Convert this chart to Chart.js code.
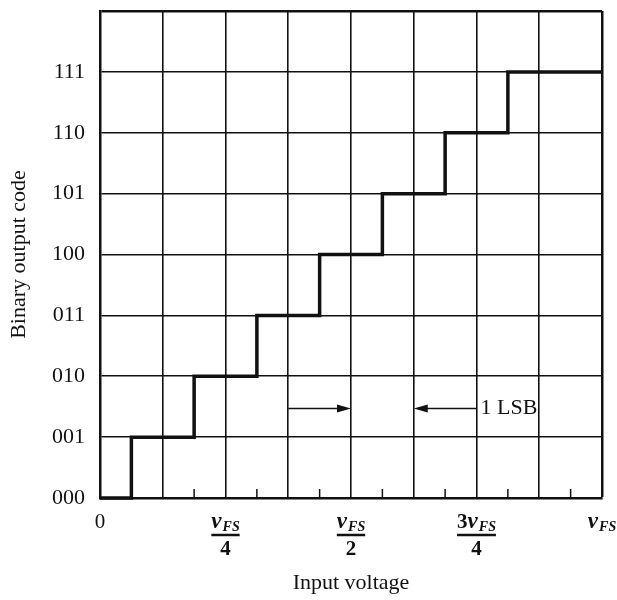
<!DOCTYPE html>
<html>
<head>
<meta charset="utf-8">
<script src="https://cdn.jsdelivr.net/npm/chart.js@4/dist/chart.umd.min.js"></script>
<style>
	html, body { margin: 0; padding: 0; background: #fff; }
	#wrap { width: 617px; height: 600px; }
</style>
</head>
<body>
<div id="wrap"><canvas id="chart"></canvas></div>
<script>
// output codes, one per level
const codes = ["000", "001", "010", "011", "100", "101", "110", "111"];
const levels = [0, 1, 2, 3, 4, 5, 6, 7];
// input (fraction of vFS) where each code starts
const thresholds = [0, 0.0625, 0.1875, 0.3125, 0.4375, 0.5625, 0.6875, 0.8125];
const fullScale = 1;

// x tick labels: prefix, variable, subscript, denominator
const xTickValues = [0, 0.25, 0.5, 0.75, 1];
const xTickPrefix = ["0", "", "", "3", ""];
const xTickVar = ["", "v", "v", "v", "v"];
const xTickSub = ["", "FS", "FS", "FS", "FS"];
const xTickDen = ["", "4", "2", "4", ""];

// small marks on the bottom axis
const minorTicks = [0.0625, 0.1875, 0.3125, 0.4375, 0.5625, 0.6875, 0.8125, 0.9375];

// 1 LSB annotation
const arrowFrom = [0.375, 0.75];
const arrowTo = [0.5, 0.625];
const arrowY = 1.47;
const lsbLabel = "1 LSB";

const serif = "'Liberation Serif', 'DejaVu Serif', serif";
const ink = "#111";

const points = thresholds.map((t, i) => ({ x: t, y: levels[i] }));
points.push({ x: fullScale, y: levels[levels.length - 1] });

const extras = {
	id: "extras",
	afterDraw(chart) {
		const ctx = chart.ctx;
		const xs = chart.scales.x;
		const ys = chart.scales.y;
		const bottom = chart.chartArea.bottom;
		ctx.save();
		ctx.strokeStyle = ink;
		ctx.fillStyle = ink;

		// minor ticks
		ctx.lineWidth = 1.5;
		minorTicks.forEach((v) => {
			const px = xs.getPixelForValue(v);
			ctx.beginPath();
			ctx.moveTo(px, bottom);
			ctx.lineTo(px, bottom - 9);
			ctx.stroke();
		});

		// arrows
		const ay = ys.getPixelForValue(arrowY);
		arrowFrom.forEach((f, i) => {
			const x0 = xs.getPixelForValue(f);
			const x1 = xs.getPixelForValue(arrowTo[i]);
			const dir = x1 > x0 ? 1 : -1;
			ctx.lineWidth = 1.6;
			ctx.beginPath();
			ctx.moveTo(x0, ay);
			ctx.lineTo(x1 - dir * 12, ay);
			ctx.stroke();
			ctx.beginPath();
			ctx.moveTo(x1, ay);
			ctx.lineTo(x1 - dir * 14, ay - 4);
			ctx.lineTo(x1 - dir * 14, ay + 4);
			ctx.closePath();
			ctx.fill();
		});
		ctx.font = "22px " + serif;
		ctx.textAlign = "left";
		ctx.textBaseline = "middle";
		ctx.fillText(lsbLabel, xs.getPixelForValue(arrowFrom[1]) + 4, ay);

		// x tick labels (fractions of vFS)
		const numBase = bottom + 30;
		xTickValues.forEach((v, i) => {
			const cx = xs.getPixelForValue(v);
			const fPre = "bold 21px " + serif;
			const fVar = "italic bold 23px " + serif;
			const fSub = "italic bold 14px " + serif;
			ctx.font = fPre;
			const wPre = ctx.measureText(xTickPrefix[i]).width;
			ctx.font = fVar;
			const wVar = ctx.measureText(xTickVar[i]).width;
			ctx.font = fSub;
			const wSub = ctx.measureText(xTickSub[i]).width + (xTickSub[i] ? 1 : 0);
			const w = wPre + wVar + wSub;
			let x = cx - w / 2;
			ctx.textAlign = "left";
			ctx.textBaseline = "alphabetic";
			ctx.font = xTickVar[i] ? fPre : "21px " + serif;
			ctx.fillText(xTickPrefix[i], x, numBase);
			x += wPre;
			ctx.font = fVar;
			ctx.fillText(xTickVar[i], x, numBase);
			x += wVar + 1;
			ctx.font = fSub;
			ctx.fillText(xTickSub[i], x, numBase + 3);
			if (xTickDen[i]) {
				ctx.lineWidth = 2.5;
				ctx.beginPath();
				ctx.moveTo(cx - w / 2, numBase + 7);
				ctx.lineTo(cx + w / 2, numBase + 7);
				ctx.stroke();
				ctx.font = "bold 21px " + serif;
				ctx.textAlign = "center";
				ctx.fillText(xTickDen[i], cx, numBase + 27);
			}
		});
		ctx.restore();
	},
};

new Chart(document.getElementById("chart"), {
	type: "line",
	data: {
		datasets: [
			{
				data: points,
				stepped: "before",
				borderColor: ink,
				borderWidth: 3.5,
				pointRadius: 0,
				fill: false,
				clip: false,
			},
		],
	},
	options: {
		responsive: true,
		maintainAspectRatio: false,
		animation: false,
		layout: { padding: { top: 11, right: 15, left: 0, bottom: 0 } },
		plugins: {
			legend: { display: false },
			tooltip: { enabled: false },
		},
		scales: {
			x: {
				type: "linear",
				min: 0,
				max: fullScale,
				ticks: { stepSize: 0.125, display: false },
				grid: {
					color: ink,
					lineWidth: (c) => (c.tick && c.tick.value === fullScale ? 2.5 : 1.6),
					drawTicks: false,
				},
				border: { color: ink, width: 2.5 },
				title: {
					display: true,
					text: "Input voltage",
					color: ink,
					font: { family: serif, size: 22 },
					padding: { top: 0, bottom: 4 },
				},
				afterFit(scale) {
					scale.height = 102;
					scale.paddingLeft = 0;
					scale.paddingRight = 0;
				},
			},
			y: {
				type: "linear",
				min: 0,
				max: codes.length,
				ticks: {
					stepSize: 1,
					padding: 15,
					color: ink,
					font: { family: serif, size: 22 },
					callback: (v) => (codes[v] !== undefined ? codes[v] : ""),
				},
				grid: {
					color: ink,
					lineWidth: (c) => (c.tick && c.tick.value === codes.length ? 2.5 : 1.6),
					drawTicks: false,
				},
				border: { color: ink, width: 2.5 },
				title: {
					display: true,
					text: "Binary output code",
					color: ink,
					font: { family: serif, size: 22 },
					padding: { top: 6, bottom: 0 },
				},
				afterFit(scale) {
					scale.width = 100;
					scale.paddingTop = 0;
					scale.paddingBottom = 0;
				},
			},
		},
	},
	plugins: [extras],
});
</script>
</body>
</html>
